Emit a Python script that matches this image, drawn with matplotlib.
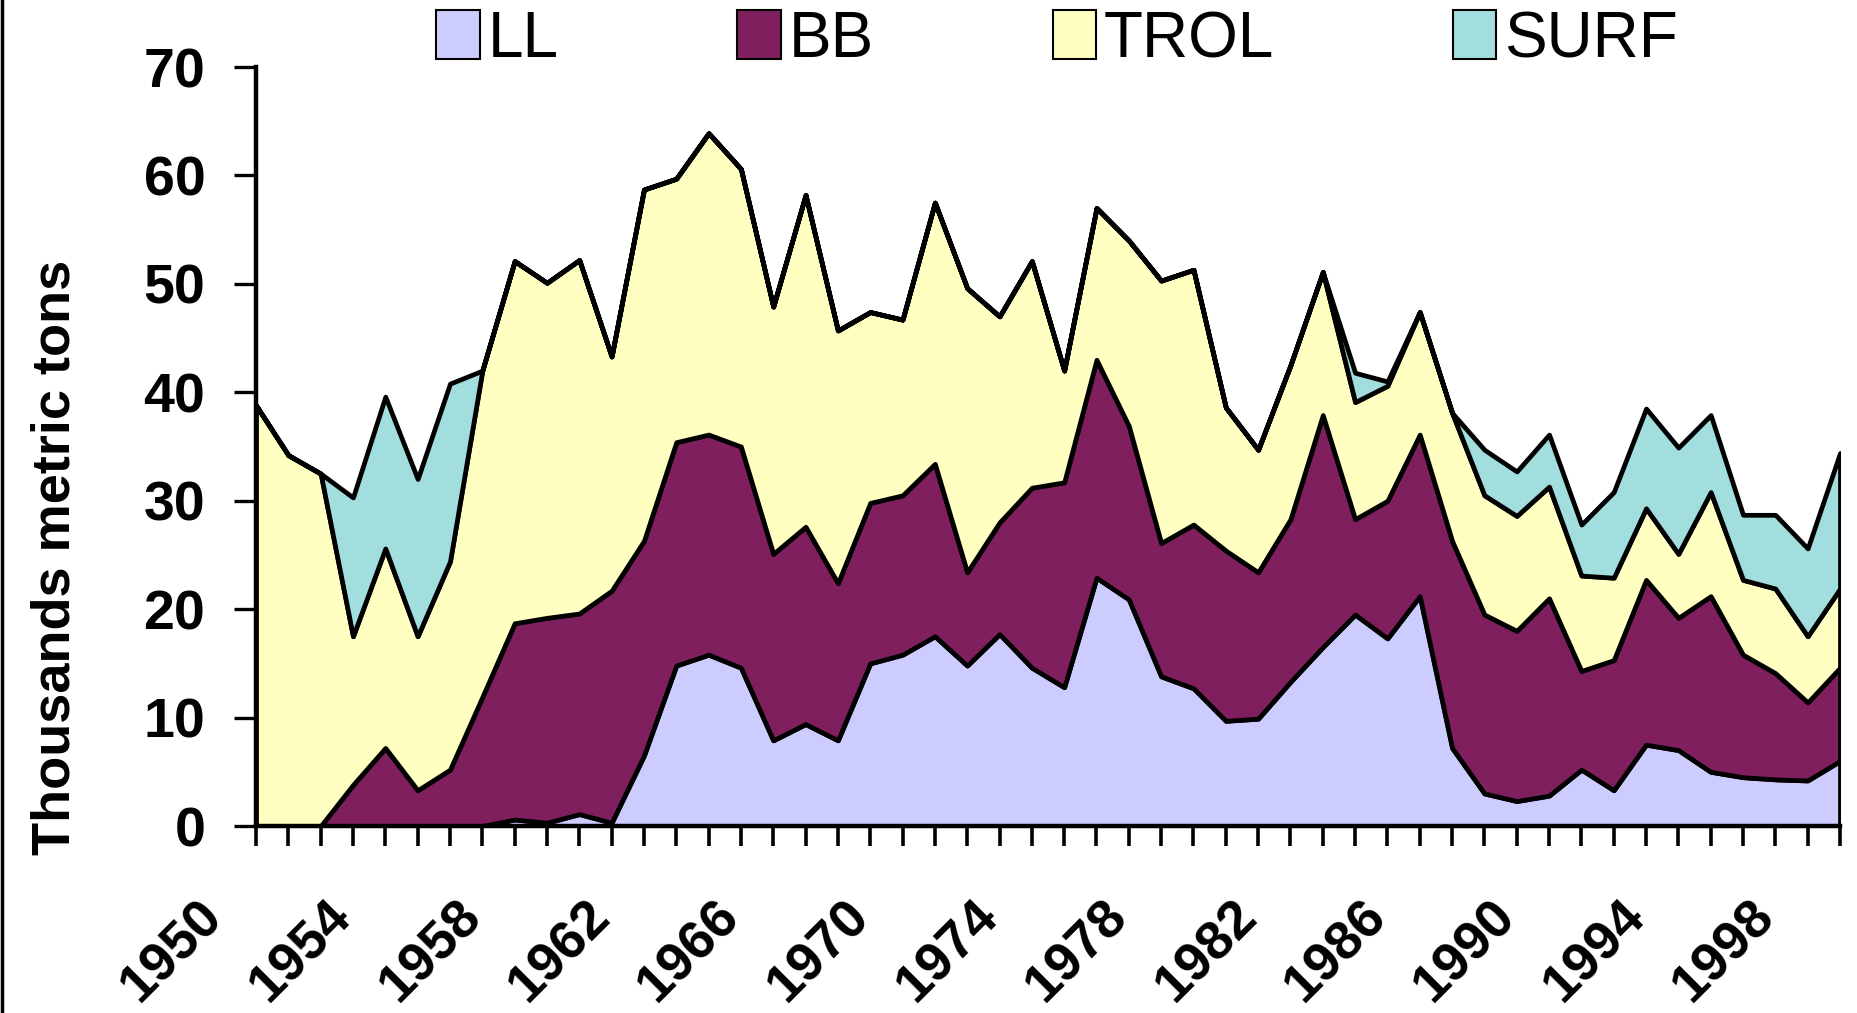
import matplotlib
matplotlib.use("Agg")
import matplotlib.pyplot as plt
import matplotlib.transforms as mtransforms
from matplotlib.lines import Line2D
from matplotlib.patches import Patch

plt.rcParams["font.family"] = ["Liberation Sans", "DejaVu Sans"]

# catch by gear, thousand metric tons, 1950-1999
years = list(range(1950, 2000))
ll = [0, 0, 0, 0, 0, 0, 0, 0, 0.6, 0.3,
      1.1, 0.3, 6.5, 14.8, 15.8, 14.6, 7.9, 9.4, 7.9, 15.0,
      15.8, 17.5, 14.8, 17.7, 14.6, 12.8, 22.9, 20.9, 13.8, 12.7,
      9.7, 9.9, 13.3, 16.5, 19.5, 17.3, 21.2, 7.2, 3.0, 2.3,
      2.8, 5.2, 3.3, 7.5, 7.0, 5.0, 4.5, 4.3, 4.2, 6.0]
bb = [0, 0, 0, 3.8, 7.2, 3.3, 5.2, 11.9, 18.1, 18.9,
      18.5, 21.4, 19.8, 20.6, 20.3, 20.4, 17.2, 18.2, 14.5, 14.8,
      14.7, 15.9, 8.6, 10.3, 16.6, 18.9, 20.1, 16.0, 12.3, 15.1,
      15.7, 13.5, 15.0, 21.4, 8.8, 12.7, 14.9, 19.1, 16.5, 15.7,
      18.2, 9.1, 12.0, 15.2, 12.2, 16.2, 11.3, 9.8, 7.2, 8.6]
trol = [38.8, 34.2, 32.5, 13.7, 18.4, 14.2, 19.2, 30.1, 33.4, 30.9,
        32.6, 21.6, 32.4, 24.3, 27.8, 25.6, 22.8, 30.6, 23.3, 17.6,
        16.2, 24.1, 26.2, 19.0, 20.9, 10.3, 14.0, 17.1, 24.2, 23.5,
        13.2, 11.3, 14.2, 13.2, 10.8, 10.6, 11.3, 11.8, 11.0, 10.6,
        10.3, 8.8, 7.6, 6.6, 5.9, 9.6, 6.9, 7.8, 6.1, 7.3]
surf = [0, 0, 0, 12.8, 14.0, 14.5, 16.4, 0, 0, 0,
        0, 0, 0, 0, 0, 0, 0, 0, 0, 0,
        0, 0, 0, 0, 0, 0, 0, 0, 0, 0,
        0, 0, 0, 0, 2.7, 0.4, 0, 0, 4.2, 4.1,
        4.8, 4.7, 7.9, 9.2, 9.8, 7.1, 6.0, 6.8, 8.1, 12.5]
series_names = ["LL", "BB", "TROL", "SURF"]
colors = ["#CCCCFF", "#7F1F5E", "#FFFFC2", "#A3DEDE"]
yticks = [0, 10, 20, 30, 40, 50, 60, 70]

W, H = 1857, 1013
fig = plt.figure(figsize=(W / 100, H / 100), dpi=100)
ax = fig.add_axes([256 / W, 1 - 826 / H, (1840 - 256) / W, (826 - 67) / H])

ax.stackplot(years, ll, bb, trol, surf, colors=colors,
             edgecolor="black", linewidth=3.4)

ax.set_xlim(years[0], years[-1])
ax.set_ylim(0, 70)
ax.set_yticks(yticks)
ax.set_xticks(years)
ax.set_xticklabels([str(y) if (y - 1950) % 4 == 0 else "" for y in years],
                   rotation=45, ha="right", va="top", rotation_mode="anchor",
                   fontweight="bold")
for lab in ax.get_yticklabels():
    lab.set_fontweight("bold")

for s in ("top", "right"):
    ax.spines[s].set_visible(False)
for s in ("left", "bottom"):
    ax.spines[s].set_linewidth(3.2)
ax.tick_params(axis="y", direction="out", length=15.5, width=2.4, pad=21,
               labelsize=40)
ax.tick_params(axis="x", direction="out", length=14.5, width=2.6, pad=32,
               labelsize=39)
shift = mtransforms.ScaledTranslation(-0.59, 0, fig.dpi_scale_trans)
for lab in ax.get_xticklabels():
    lab.set_transform(lab.get_transform() + shift)

fig.text(56 / W, 1 - 557 / H, "Thousands metric tons", rotation=90,
         ha="center", va="center", fontsize=39, fontweight="bold")

handles = [Patch(facecolor=c, edgecolor="black", linewidth=1.5) for c in colors]
fig.legend(handles, series_names, loc="center", ncol=4, frameon=False,
           bbox_to_anchor=(1057 / W, 1 - 40 / H), fontsize=46,
           handlelength=0.68, handleheight=0.8, handletextpad=0.12,
           columnspacing=2.8, borderpad=0)

fig.add_artist(Line2D([1.5 / W, 1.5 / W], [0, 1], color="black", linewidth=2.5))

fig.savefig("out.png", dpi=100)
